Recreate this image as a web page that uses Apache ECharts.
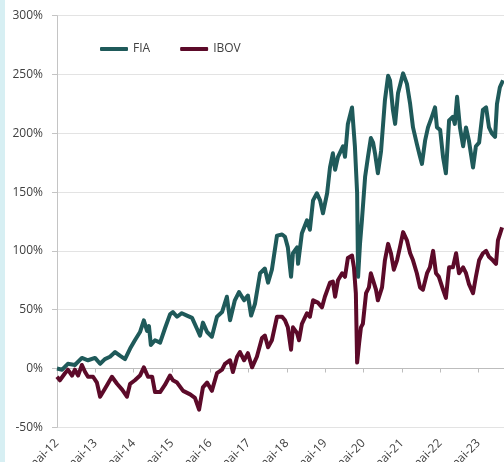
<!DOCTYPE html>
<html>
<head>
    <meta charset="UTF-8">
    <script src="https://cdn.jsdelivr.net/npm/echarts@6/dist/echarts.min.js"></script>
    <style>
        html, body { margin: 0; padding: 0; background: #fff; }
        #chart { width: 504px; height: 462px; }
    </style>
</head>
<body>
<div id="chart"></div>
<script>
    // meses desde mai-12
    var fiaMonth = [0,1.6,3.4,5.6,7.8,9.7,11.9,13.5,15.0,16.6,18.2,19.7,21.3,22.9,24.4,26.0,27.2,28.2,28.8,29.4,
        30.7,32.3,33.8,35.4,36.3,37.6,39.1,40.7,42.3,43.8,44.8,45.7,47.0,48.5,50.1,51.7,53.2,54.2,55.7,57.0,
        58.6,59.8,60.8,62.0,63.6,65.1,66.1,67.3,68.9,70.5,71.4,72.3,73.3,73.9,75.2,75.5,76.7,78.3,79.2,80.2,
        81.4,82.4,83.3,84.6,85.5,86.4,87.1,88.0,89.6,90.2,91.1,92.4,92.7,93.3,94.0,94.3,94.9,95.5,96.5,97.4,
        98.3,99.0,99.6,100.5,101.5,102.7,103.7,104.3,105.2,105.9,106.8,108.4,109.6,110.6,111.5,112.7,113.7,114.3,115.3,116.2,
        117.4,118.4,119.0,120.0,120.9,121.8,122.8,124.0,124.6,125.3,126.2,127.2,128.1,129.0,130.3,131.2,132.2,133.4,134.4,135.3,
        136.2,137.2,137.8,138.7,139.7];
    var fiaValue = [0,-1,4,3,9,7,9,4,8,10,14,11,8,17,24,31,41,32,36,20,
        24,22,34,46,48,44,47,45,43,34,28,39,31,27,44,48,61,41,58,65,
        58,62,45,55,81,85,73,84,113,114,112,103,78,98,103,89,115,126,118,143,
        149,143,132,149,171,183,169,180,189,180,208,222,211,189,149,78,106,126,163,180,
        196,192,183,166,185,228,249,245,220,208,234,251,242,225,205,191,180,174,194,205,
        214,222,205,203,180,166,211,214,208,231,205,189,205,194,171,189,192,220,222,205,
        200,197,225,239,245];

    var ibovMonth = [0,0.9,2.5,3.4,4.7,5.6,6.6,7.8,8.8,9.7,11.3,12.5,13.5,14.4,15.7,17.2,18.8,20.4,21.9,22.9,
        24.4,26.0,27.2,28.5,29.8,30.7,32.3,33.8,35.4,36.3,37.6,39.5,41.7,43.2,44.5,45.7,47.0,48.5,50.1,51.7,
        52.6,54.2,55.1,56.4,57.3,58.6,59.8,61.1,62.6,64.2,65.1,66.1,67.3,68.9,70.5,71.4,72.3,73.3,73.9,75.2,
        75.8,76.7,78.3,79.2,80.2,81.7,83.0,83.9,85.5,86.4,87.1,88.0,89.3,90.2,91.1,92.4,93.0,93.6,94.0,94.6,
        95.2,95.8,96.8,97.7,98.3,99.0,99.9,100.5,101.8,102.7,103.7,104.6,105.5,106.5,107.4,108.4,109.6,110.6,111.5,112.7,
        113.7,114.6,115.9,116.8,117.8,118.7,119.6,120.9,121.8,122.8,124.0,125.0,125.9,127.2,128.1,129.0,130.3,131.2,132.2,133.4,
        134.4,135.3,136.5,137.5,138.1,139.4];
    var ibovValue = [-7,-10,-4,-1,-6,-1,-6,3,-3,-7,-7,-12,-24,-20,-14,-7,-13,-18,-24,-13,
        -10,-6,1,-7,-7,-20,-20,-14,-6,-10,-12,-19,-22,-25,-35,-16,-12,-19,-4,-1,
        4,7,-3,10,14,7,13,1,10,26,28,18,24,44,44,41,35,16,35,30,
        24,38,47,44,58,56,52,61,73,74,61,75,81,78,94,96,86,64,5,21,
        35,38,64,69,81,75,67,58,69,92,106,98,84,92,103,116,109,98,92,81,
        69,67,81,86,100,81,78,67,60,86,86,98,81,86,81,72,64,78,92,98,
        100,95,92,89,109,120];

    var yTicks = [-50, 300, 50];   // min, max, intervalo
    var xTicks = [0, 140, 12];     // mai-12 ... fim da série

    function pairs(ms, vs) {
        var out = [];
        for (var i = 0; i < ms.length && i < vs.length; i++) out.push([ms[i], vs[i]]);
        return out;
    }

    var chart = echarts.init(document.getElementById('chart'));
    var textColor = '#404040';
    var font = "'Open Sans', 'Noto Sans', sans-serif";

    chart.setOption({
        animation: false,
        backgroundColor: '#fff',
        textStyle: { fontFamily: font },
        graphic: [{
            type: 'rect',
            shape: { x: 0, y: 0, width: 5, height: 462 },
            style: { fill: '#d7eff3' }
        }],
        legend: {
            data: ['FIA', 'IBOV'],
            left: 95,
            top: 38,
            icon: 'roundRect',
            itemWidth: 28,
            itemHeight: 4,
            itemGap: 30,
            textStyle: { color: textColor, fontSize: 12, fontFamily: font }
        },
        grid: { left: 57, right: 0, top: 15.7, bottom: 34.7, containLabel: false, outerBoundsMode: 'none' },
        xAxis: [{
            type: 'value',
            position: 'bottom',
            min: xTicks[0], max: xTicks[1], interval: xTicks[2],
            axisLine: { show: false, onZero: false },
            axisTick: { show: false },
            splitLine: { show: false },
            axisLabel: {
                rotate: 45,
                margin: 14,
                color: textColor,
                fontSize: 12,
                fontFamily: font,
                formatter: function (v) {
                    return v % 12 === 0 ? 'mai-' + (12 + v / 12) : '';
                }
            }
        }, {
            type: 'value',
            position: 'bottom',
            min: xTicks[0], max: xTicks[1], interval: xTicks[2],
            axisLine: { show: true, onZero: true, lineStyle: { color: '#bdbdbd', width: 1 } },
            axisTick: { show: true, length: 4, lineStyle: { color: '#bdbdbd' } },
            splitLine: { show: false },
            axisLabel: { show: false }
        }],
        yAxis: {
            type: 'value',
            min: yTicks[0], max: yTicks[1], interval: yTicks[2],
            axisLine: { show: true, onZero: false, lineStyle: { color: '#c4c4c4' } },
            axisTick: { show: true, length: 5, lineStyle: { color: '#c4c4c4' } },
            splitLine: { show: true, lineStyle: { color: '#e3e3e3', width: 1 } },
            axisLabel: {
                margin: 14,
                color: textColor,
                fontSize: 12,
                fontFamily: font,
                formatter: '{value}%'
            }
        },
        series: [{
            name: 'FIA',
            type: 'line',
            xAxisIndex: 0,
            data: pairs(fiaMonth, fiaValue),
            showSymbol: false,
            symbol: 'none',
            color: '#1f5a5a',
            lineStyle: { width: 4, color: '#1f5a5a', join: 'round' }
        }, {
            name: 'IBOV',
            type: 'line',
            xAxisIndex: 0,
            data: pairs(ibovMonth, ibovValue),
            showSymbol: false,
            symbol: 'none',
            color: '#5c0a29',
            lineStyle: { width: 4, color: '#5c0a29', join: 'round' }
        }]
    });
</script>
</body>
</html>
